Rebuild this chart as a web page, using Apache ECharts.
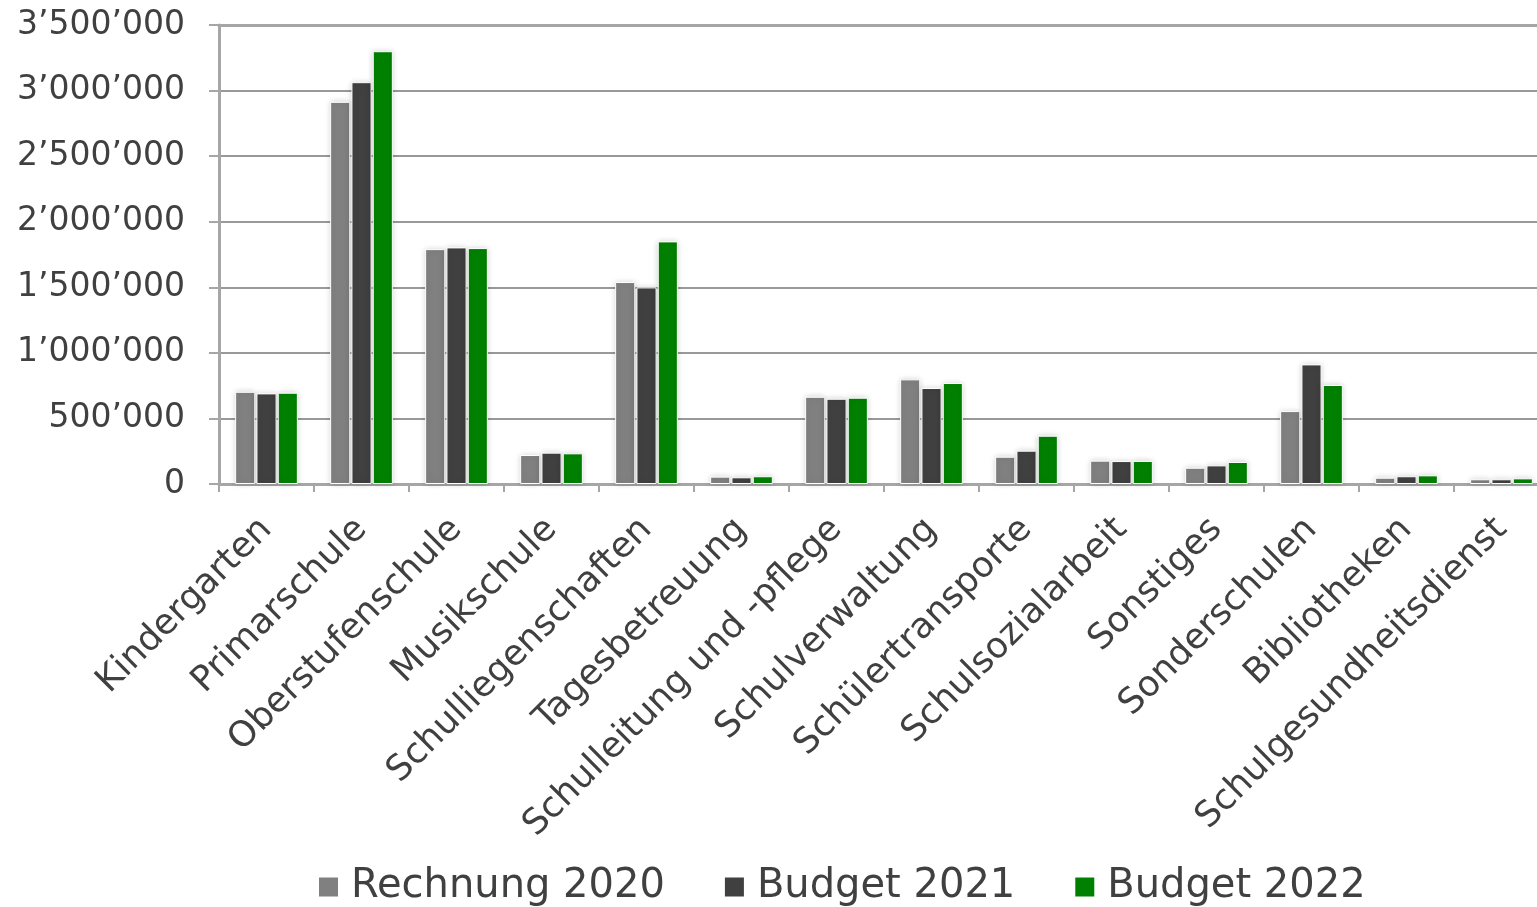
<!DOCTYPE html>
<html>
<head>
<meta charset="utf-8">
<script src="https://cdn.jsdelivr.net/npm/echarts@6/dist/echarts.min.js"></script>
<style>
html,body{margin:0;padding:0;background:#fff;overflow:hidden;}
#chart{width:1549px;height:907px;}
</style>
</head>
<body>
<div id="chart"></div>
<script>
const categories = ['Kindergarten','Primarschule','Oberstufenschule','Musikschule','Schulliegenschaften','Tagesbetreuung','Schulleitung und -pflege','Schulverwaltung','Schülertransporte','Schulsozialarbeit','Sonstiges','Sonderschulen','Bibliotheken','Schulgesundheitsdienst'];
const seriesNames = ['Rechnung 2020','Budget 2021','Budget 2022'];
const rechnung2020 = [703000,2914000,1791000,221000,1540000,56000,665000,798000,208000,178000,124000,556000,48000,36000];
const budget2021   = [691000,3064000,1804000,239000,1499000,51000,650000,732000,254000,175000,142000,912000,59000,36000];
const budget2022   = [696000,3300000,1799000,234000,1850000,59000,658000,770000,368000,176000,168000,755000,66000,43000];
const yTicks = [0,500000,1000000,1500000,2000000,2500000,3000000,3500000];
const colors = ['#808080','#404040','#008000'];

const font = 'DejaVu Sans';
function fmt(v){ return String(v).replace(/\B(?=(\d{3})+(?!\d))/g, '\u2019'); }

const chart = echarts.init(document.getElementById('chart'));
const mk = (name, data, c) => ({
  name, type:'bar', data,
  barGap:'6%', barCategoryGap:'34%',
  itemStyle:{color:c, borderColor:'#ffffff', borderWidth:1, shadowBlur:6, shadowColor:'rgba(0,0,0,0.18)'}
});
chart.setOption({
  animation:false,
  color: colors,
  grid:{left:219, right:0, top:25, bottom:423, containLabel:false},
  legend:{
    top:862, left:312,
    itemWidth:21, itemHeight:21, itemGap:58, icon:'rect',
    textStyle:{fontFamily:font, fontSize:40, color:'#404040', padding:[0,0,0,7]},
    data: seriesNames
  },
  xAxis:[{
    type:'category', data:categories,
    axisLine:{lineStyle:{color:'#a6a6a6', width:3}},
    axisTick:{show:true, length:8, lineStyle:{color:'#a6a6a6', width:2}},
    axisLabel:{rotate:45, interval:0, fontFamily:font, fontSize:35.5, color:'#404040', margin:40}
  },{
    type:'category', position:'top', data:categories,
    axisLine:{lineStyle:{color:'#a6a6a6', width:3}},
    axisTick:{show:false}, axisLabel:{show:false}
  }],
  yAxis:{
    type:'value', min:0, max:3500000, interval:500000,
    axisLine:{show:true, lineStyle:{color:'#a6a6a6', width:3}},
    axisTick:{show:true, length:10, lineStyle:{color:'#a6a6a6', width:2}},
    splitLine:{lineStyle:{color:'#999999', width:2}},
    axisLabel:{fontFamily:font, fontSize:33, color:'#404040', margin:34, formatter:v=>yTicks.includes(v)?fmt(v):''}
  },
  series:[mk(seriesNames[0], rechnung2020, colors[0]), mk(seriesNames[1], budget2021, colors[1]), mk(seriesNames[2], budget2022, colors[2])]
});
</script>
</body>
</html>
